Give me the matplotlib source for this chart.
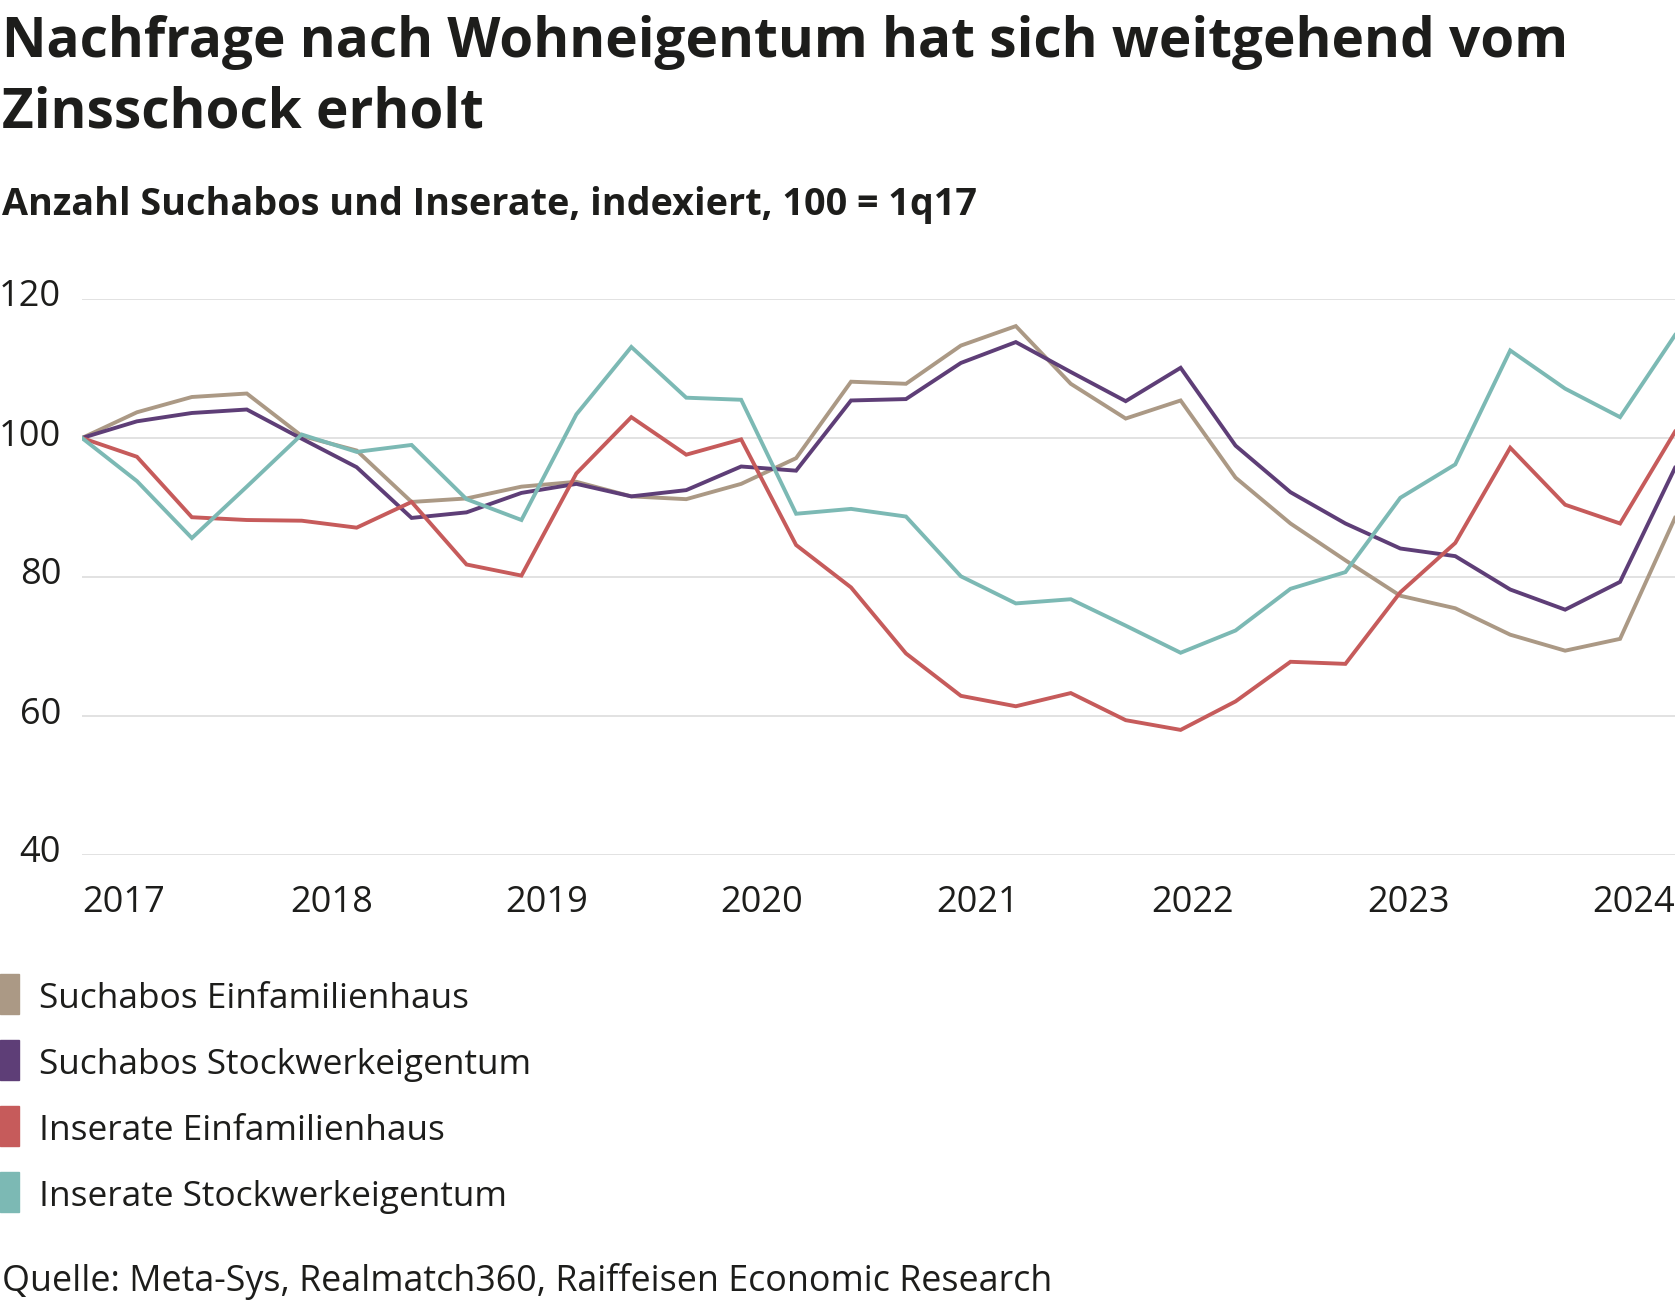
import numpy as np
import matplotlib
matplotlib.use("Agg")
import matplotlib.pyplot as plt
from matplotlib.patches import Rectangle
from matplotlib.transforms import blended_transform_factory, ScaledTranslation

# quarterly index values, 1q17 = 100
quarters = [f"{q}q{y}" for y in range(17, 25) for q in range(1, 5)][:30]

suchabos_efh = [100, 103.7, 105.9, 106.4, 100.3, 98.2, 90.8, 91.3, 93.0, 93.7,
                91.6, 91.2, 93.4, 97.1, 108.1, 107.8, 113.3, 116.1, 107.8, 102.8,
                105.4, 94.3, 87.7, 82.4, 77.3, 75.5, 71.7, 69.4, 71.1, 88.5]
suchabos_stwe = [100, 102.4, 103.6, 104.1, 99.9, 95.8, 88.5, 89.3, 92.1, 93.4,
                 91.6, 92.5, 95.9, 95.3, 105.4, 105.6, 110.8, 113.8, 109.5, 105.3,
                 110.1, 98.9, 92.2, 87.7, 84.1, 83.0, 78.2, 75.3, 79.3, 95.7]
inserate_efh = [100, 97.3, 88.6, 88.2, 88.1, 87.1, 90.8, 81.8, 80.2, 94.9,
                103.0, 97.6, 99.8, 84.6, 78.5, 69.0, 62.9, 61.4, 63.3, 59.4,
                58.0, 62.1, 67.8, 67.5, 77.8, 84.9, 98.6, 90.4, 87.7, 100.9]
inserate_stwe = [100, 93.8, 85.6, 93.0, 100.5, 98.0, 99.0, 91.2, 88.2, 103.4,
                 113.1, 105.8, 105.5, 89.1, 89.8, 88.7, 80.1, 76.2, 76.8, 73.0,
                 69.1, 72.3, 78.3, 80.7, 91.4, 96.2, 112.6, 107.1, 103.0, 114.8]

series_names = ["Suchabos Einfamilienhaus", "Suchabos Stockwerkeigentum",
                "Inserate Einfamilienhaus", "Inserate Stockwerkeigentum"]
series_colors = ["#ab9985", "#5e3e77", "#c65b5b", "#7cb9b4"]
year_labels = ["2017", "2018", "2019", "2020", "2021", "2022", "2023", "2024"]
y_ticks = [40, 60, 80, 100, 120]

title_lines = ["Nachfrage nach Wohneigentum hat sich weitgehend vom",
               "Zinsschock erholt"]
subtitle = "Anzahl Suchabos und Inserate, indexiert, 100 = 1q17"
source = "Quelle: Meta-Sys, Realmatch360, Raiffeisen Economic Research"

plt.rcParams['font.family'] = ['Open Sans', 'DejaVu Sans']
TXT = "#1d1d1b"

W, H = 1676, 1306
fig = plt.figure(figsize=(W / 100, H / 100), dpi=100)
fig.patch.set_facecolor("white")


def fx(px):
    return px / W


def fy(px):
    return 1 - px / H


# plot area: 40 gridline at y=855px, 120 at y=299px
ax = fig.add_axes([fx(82), fy(855), fx(1675 - 82), (855 - 299) / H])
x = np.arange(len(quarters))
for vals, col in zip([suchabos_efh, suchabos_stwe, inserate_efh, inserate_stwe], series_colors):
    ax.plot(x, vals, color=col, lw=2.8, solid_joinstyle="miter", zorder=3)

ax.set_xlim(0, len(quarters) - 1)
ax.set_ylim(40, 120)
for s in ax.spines.values():
    s.set_visible(False)
ax.set_xticks([])
ax.set_yticks(y_ticks)
ax.yaxis.grid(True, color="#e2e2e2", lw=1.4)
ax.set_axisbelow(True)
ax.tick_params(axis="y", length=0, pad=15, labelsize=26, labelcolor=TXT)
shift = ScaledTranslation(0, 6 / 100, fig.dpi_scale_trans)
for lab in ax.get_yticklabels():
    lab.set_transform(lab.get_transform() + shift)

# year labels below the plot (first/last kept inside the plot width)
tr = blended_transform_factory(ax.transData, fig.transFigure)
for k, yl in enumerate(year_labels):
    pos = k * 3.92 + 0.62
    ha = "center"
    if k == 0:
        pos, ha = 0, "left"
    elif k == len(year_labels) - 1:
        pos, ha = len(quarters) - 1, "right"
    ax.text(pos, fy(912), yl, transform=tr, ha=ha, va="baseline",
            fontsize=26, color=TXT)

# titles
fig.text(fx(2), fy(57), title_lines[0], fontsize=39.5, fontweight="bold",
         color=TXT, va="baseline")
fig.text(fx(2), fy(128), title_lines[1], fontsize=39.5, fontweight="bold",
         color=TXT, va="baseline")
fig.text(fx(2), fy(215), subtitle, fontsize=27.2, fontweight="bold",
         color=TXT, va="baseline")

# legend
for i, (name, col) in enumerate(zip(series_names, series_colors)):
    cy = 994 + i * 66
    fig.patches.append(Rectangle((0, fy(cy + 20)), fx(19), 40 / H,
                                 transform=fig.transFigure, color=col))
    fig.text(fx(39), fy(cy + 5), name, fontsize=25.4, color=TXT, va="center")

fig.text(fx(2), fy(1291), source, fontsize=25.8, color=TXT, va="baseline")

fig.savefig("out.png", dpi=100, facecolor="white")
